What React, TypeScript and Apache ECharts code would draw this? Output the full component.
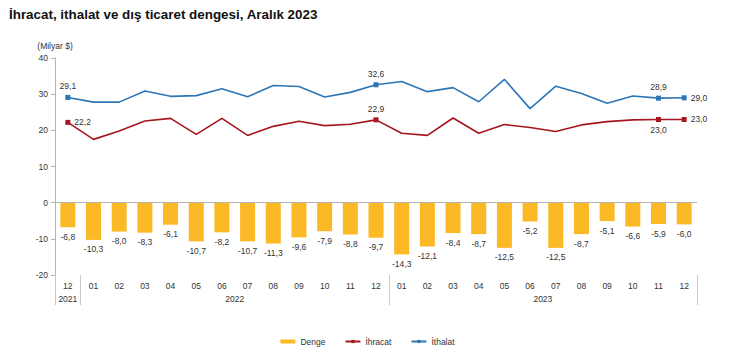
import React, { useEffect, useRef } from "react";
import * as echarts from "echarts";

const months = ["12", "01", "02", "03", "04", "05", "06", "07", "08", "09", "10", "11", "12", "01", "02", "03", "04", "05", "06", "07", "08", "09", "10", "11", "12"];
const yearLabels = ["2021", "2022", "2023"];
const denge = [-6.8, -10.3, -8.0, -8.3, -6.1, -10.7, -8.2, -10.7, -11.3, -9.6, -7.9, -8.8, -9.7, -14.3, -12.1, -8.4, -8.7, -12.5, -5.2, -12.5, -8.7, -5.1, -6.6, -5.9, -6.0];
const ihracat = [22.2, 17.5, 19.8, 22.6, 23.3, 18.9, 23.3, 18.6, 21.1, 22.5, 21.3, 21.7, 22.9, 19.2, 18.6, 23.4, 19.2, 21.6, 20.8, 19.7, 21.5, 22.4, 22.9, 23.0, 23.0];
const ithalat = [29.1, 27.8, 27.8, 30.9, 29.4, 29.6, 31.5, 29.3, 32.4, 32.1, 29.2, 30.5, 32.6, 33.5, 30.7, 31.8, 27.9, 34.1, 26.0, 32.2, 30.2, 27.5, 29.5, 28.9, 29.0];
const ihracatLabelPos: Record<number, string> = { 0: "right", 12: "top", 23: "bottom", 24: "right" };
const ithalatLabelPos: Record<number, string> = { 0: "top", 12: "top", 23: "top", 24: "right" };

const fmt = (v: number) => v.toFixed(1).replace(".", ",");
const TXT = "#333";
const FS = 8.5;

function lineData(values: number[], pos: Record<number, string>) {
  return values.map((v, i) =>
    pos[i] !== undefined
      ? { value: v, symbolSize: 5, label: { show: true, position: pos[i], distance: 4 } }
      : { value: v, symbolSize: 0 }
  );
}

export default function App() {
  const ref = useRef<HTMLDivElement>(null);
  useEffect(() => {
    if (!ref.current) return;
    const chart = echarts.init(ref.current, null, { renderer: "svg" });
    chart.setOption({
      animation: false,
      textStyle: { fontFamily: "Liberation Sans, Arial, sans-serif" },
      title: {
        text: "İhracat, ithalat ve dış ticaret dengesi, Aralık 2023",
        left: 4,
        top: 3,
        textStyle: { fontSize: 13.4, fontWeight: "bold", color: "#111", fontFamily: "Liberation Sans, Arial, sans-serif" },
      },
      legend: {
        left: "center",
        top: 332,
        itemWidth: 15,
        itemHeight: 4,
        itemGap: 19,
        textStyle: { fontSize: FS, color: TXT },
        data: [{ name: "Denge", icon: "rect" }, { name: "İhracat" }, { name: "İthalat" }],
      },
      grid: { left: 55, right: 38, top: 58, bottom: 87, containLabel: false },
      xAxis: [
        {
          type: "category",
          position: "bottom",
          data: months,
          axisLine: { show: false, onZero: false },
          axisTick: { show: false },
          axisLabel: { interval: 0, margin: 6, fontSize: FS, color: TXT },
        },
        {
          type: "category",
          position: "bottom",
          data: months,
          axisLine: { show: false, onZero: false },
          axisTick: {
            show: true,
            length: 30,
            interval: (i: number) => i === 0 || i === 1 || i === 13,
            lineStyle: { color: "#c8c8c8", width: 1 },
          },
          axisLabel: {
            interval: 0,
            margin: 19,
            fontSize: FS,
            color: TXT,
            formatter: (_v: string, i: number) =>
              i === 0 ? yearLabels[0] : i === 6 ? `{a|${yearLabels[1]}}` : i === 18 ? `{a|${yearLabels[2]}}` : "",
            rich: { a: { padding: [0, 0, 0, 25.6], fontSize: FS, color: TXT } },
          },
        },
      ],
      yAxis: {
        type: "value",
        min: -20,
        max: 40,
        interval: 10,
        name: "(Milyar $)",
        nameLocation: "end",
        nameGap: 8,
        nameTextStyle: { fontSize: FS, color: TXT },
        axisLine: { show: true, lineStyle: { color: "#b4b4b4" } },
        axisTick: { show: true, length: 4, lineStyle: { color: "#b4b4b4" } },
        axisLabel: { fontSize: FS, color: TXT, margin: 7 },
        splitLine: { show: false },
      },
      series: [
        {
          name: "Denge",
          type: "bar",
          data: denge,
          barWidth: 15,
          itemStyle: { color: "#FBB925" },
          label: { show: true, position: "bottom", distance: 5, fontSize: FS, color: TXT, formatter: (p: any) => fmt(p.value) },
          markLine: {
            silent: true,
            symbol: "none",
            label: { show: false },
            lineStyle: { color: "#b4b4b4", width: 1, type: "solid" },
            data: [{ yAxis: 0 }],
          },
        },
        {
          name: "İhracat",
          type: "line",
          data: lineData(ihracat, ihracatLabelPos),
          symbol: "rect",
          symbolSize: 5,
          showSymbol: true,
          color: "#A5171F",
          lineStyle: { width: 1.6, color: "#A5171F" },
          itemStyle: { color: "#A5171F" },
          label: { fontSize: FS, color: TXT, formatter: (p: any) => fmt(p.value) },
        },
        {
          name: "İthalat",
          type: "line",
          data: lineData(ithalat, ithalatLabelPos),
          symbol: "rect",
          symbolSize: 5,
          showSymbol: true,
          color: "#2E75B6",
          lineStyle: { width: 1.6, color: "#2E75B6" },
          itemStyle: { color: "#2E75B6" },
          label: { fontSize: FS, color: TXT, formatter: (p: any) => fmt(p.value) },
        },
      ],
    });
    return () => chart.dispose();
  }, []);
  return <div ref={ref} style={{ width: 735, height: 362, position: "absolute", left: 0, top: 0 }} />;
}
